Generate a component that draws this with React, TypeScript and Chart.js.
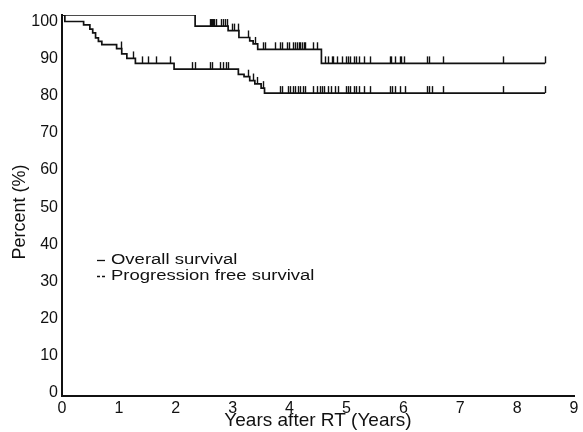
import React, { useEffect, useRef } from "react";
import { Chart, registerables } from "chart.js";

Chart.register(...registerables);

// ---- data ----
const seriesLabels = ["Overall survival", "Progression free survival"];

// Overall survival: event times (years) and survival (%) after each step
const osTimes = [0, 2.34, 2.92, 3.11, 3.3, 3.36, 3.44, 4.56, 8.49];
const osValues = [100, 97.1, 95.9, 94.1, 93.2, 92.4, 91.0, 87.3, 87.3];
const osCensored = [
  2.6, 2.62, 2.64, 2.66, 2.68, 2.7, 2.79, 2.83, 2.87, 2.9, 2.98, 3.03, 3.09,
  3.27, 3.4, 3.54, 3.57, 3.74, 3.83, 3.86, 3.95, 3.99, 4.06, 4.1, 4.13, 4.16,
  4.19, 4.22, 4.25, 4.27, 4.41, 4.49, 4.62, 4.67, 4.75, 4.77, 4.83, 4.92, 4.99,
  5.03, 5.07, 5.14, 5.16, 5.22, 5.31, 5.41, 5.76, 5.79, 5.85, 5.94, 5.96, 6.01,
  6.41, 6.45, 6.7, 7.76, 8.49,
];

// Progression free survival
const pfsTimes = [
  0, 0.05, 0.38, 0.49, 0.54, 0.59, 0.64, 0.7, 0.96, 1.05, 1.14, 1.29, 1.97,
  3.1, 3.2, 3.3, 3.39, 3.5, 3.56, 8.49,
];
const pfsValues = [
  100, 98.3, 97.4, 96.3, 95.3, 94.0, 93.1, 92.2, 91.2, 89.8, 88.6, 87.3, 85.8,
  84.4, 83.8, 82.8, 81.9, 80.8, 79.5, 79.5,
];
const pfsCensored = [
  1.03, 1.25, 1.41, 1.51, 1.65, 1.89, 2.28, 2.33, 2.6, 2.63, 2.78, 2.83, 2.89,
  2.92, 3.27, 3.36, 3.42, 3.54, 3.83, 3.86, 3.97, 4.01, 4.06, 4.09, 4.15, 4.18,
  4.24, 4.27, 4.41, 4.49, 4.53, 4.57, 4.61, 4.67, 4.73, 4.8, 4.85, 4.99, 5.03,
  5.07, 5.14, 5.16, 5.22, 5.31, 5.41, 5.76, 5.8, 5.86, 5.94, 6.03, 6.41, 6.45,
  6.51, 6.7, 7.76, 8.49,
];

const xTicks = [0, 1, 2, 3, 4, 5, 6, 7, 8, 9];
const yTicks = [0, 10, 20, 30, 40, 50, 60, 70, 80, 90, 100];
const xTitle = "Years after RT (Years)";
const yTitle = "Percent (%)";

const FONT = '"Liberation Sans", Arial, Helvetica, sans-serif';
const INK = "#111111";

const toPoints = (xs: number[], ys: number[]) =>
  xs.map((x, i) => ({ x, y: ys[i] }));

// censoring tick marks, drawn at the curve level through the chart's scales
const censorPlugin = {
  id: "censorTicks",
  afterDatasetsDraw(chart: any, _args: any, opts: any) {
    const xs = chart.scales.x;
    const ys = chart.scales.y;
    const ctx = chart.ctx;
    ctx.save();
    ctx.strokeStyle = INK;
    ctx.lineWidth = 1.4;
    (opts.sets || []).forEach((times: number[], di: number) => {
      const pts = chart.data.datasets[di].data as { x: number; y: number }[];
      times.forEach((t) => {
        let v = pts[0].y;
        for (const p of pts) if (p.x <= t) v = p.y;
        const px = Math.round(xs.getPixelForValue(t)) + 0.5;
        const py = ys.getPixelForValue(v);
        ctx.beginPath();
        ctx.moveTo(px, py);
        ctx.lineTo(px, py - opts.len);
        ctx.stroke();
      });
    });
    ctx.restore();
  },
};

// in-plot legend and the rotated y-axis title
const kmLegendPlugin = {
  id: "kmLegend",
  afterDraw(chart: any, _args: any, opts: any) {
    const ctx = chart.ctx;
    ctx.save();
    ctx.fillStyle = INK;
    ctx.strokeStyle = INK;
    ctx.font = `${opts.fontSize}px ${FONT}`;
    ctx.textBaseline = "middle";
    chart.data.datasets.forEach((ds: any, i: number) => {
      const y = opts.y + i * opts.gap;
      ctx.lineWidth = 1.3;
      ctx.setLineDash(i === 0 ? [] : [3, 2]);
      ctx.beginPath();
      ctx.moveTo(opts.x, y + 0.5);
      ctx.lineTo(opts.x + 8, y + 0.5);
      ctx.stroke();
      ctx.setLineDash([]);
      ctx.save();
      ctx.translate(opts.x + 14, y);
      ctx.scale(opts.stretch, 1);
      ctx.fillText(ds.label, 0, 0);
      ctx.restore();
    });
    // y axis title
    ctx.save();
    ctx.font = `${opts.yTitleSize}px ${FONT}`;
    ctx.textAlign = "center";
    ctx.textBaseline = "middle";
    ctx.translate(opts.yTitleX, opts.yTitleY);
    ctx.rotate(-Math.PI / 2);
    ctx.fillText(yTitle, 0, 0);
    ctx.restore();
    ctx.restore();
  },
};

export default function App() {
  const ref = useRef<HTMLCanvasElement | null>(null);

  useEffect(() => {
    if (!ref.current) return;
    const chart = new Chart(ref.current, {
      type: "line",
      data: {
        datasets: [
          {
            label: seriesLabels[0],
            data: toPoints(osTimes, osValues),
            stepped: true,
            borderColor: INK,
            borderWidth: 1.7,
            pointRadius: 0,
            fill: false,
            yAxisID: "y",
          },
          {
            label: seriesLabels[1],
            data: toPoints(pfsTimes, pfsValues),
            stepped: true,
            borderColor: INK,
            borderWidth: 1.7,
            pointRadius: 0,
            fill: false,
            yAxisID: "y",
          },
        ],
      },
      options: {
        responsive: false,
        animation: false,
        devicePixelRatio: 1,
        layout: { padding: { top: 15, right: 9, left: 0, bottom: 0 } },
        scales: {
          x: {
            type: "linear",
            min: 0,
            max: 9,
            afterBuildTicks: (ax: any) => {
              ax.ticks = xTicks.map((v) => ({ value: v }));
            },
            afterFit: (ax: any) => {
              ax.height = 36;
            },
            grid: { display: false, drawTicks: false },
            border: { display: true, color: INK, width: 2 },
            ticks: {
              color: INK,
              font: { family: FONT, size: 16 },
              padding: 3,
              maxRotation: 0,
              autoSkip: false,
            },
            title: {
              display: true,
              text: xTitle,
              color: INK,
              font: { family: FONT, size: 19 },
              padding: { top: 0, bottom: 0 },
            },
          },
          y: {
            type: "linear",
            min: 0,
            max: 100,
            display: false,
          },
          yl: {
            type: "linear",
            position: "left",
            min: -0.9,
            max: 101.8,
            afterBuildTicks: (ax: any) => {
              ax.ticks = yTicks.map((v) => ({ value: v }));
            },
            afterFit: (ax: any) => {
              ax.width = 62;
            },
            grid: { display: false, drawTicks: false },
            border: { display: true, color: INK, width: 2 },
            ticks: {
              color: INK,
              font: { family: FONT, size: 16 },
              padding: 4,
              autoSkip: false,
            },
            title: { display: false },
          },
        },
        plugins: {
          legend: { display: false },
          tooltip: { enabled: false },
          censorTicks: { sets: [osCensored, pfsCensored], len: 7 },
          kmLegend: {
            x: 97,
            y: 260,
            gap: 16,
            fontSize: 14,
            stretch: 1.32,
            yTitleSize: 18,
            yTitleX: 20,
            yTitleY: 212,
          },
        } as any,
      },
      plugins: [censorPlugin, kmLegendPlugin],
    });
    return () => chart.destroy();
  }, []);

  return (
    <div
      style={{
        position: "absolute",
        left: 0,
        top: 0,
        width: 583,
        height: 432,
        background: "#ffffff",
      }}
    >
      <canvas ref={ref} width={583} height={432} style={{ display: "block" }} />
    </div>
  );
}
